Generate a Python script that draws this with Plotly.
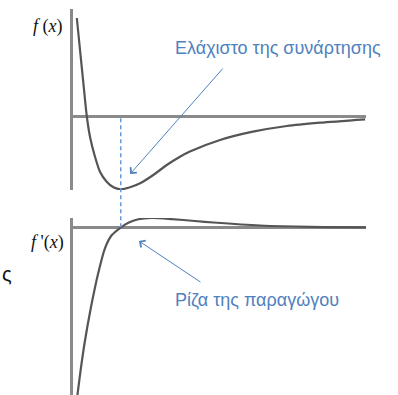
import plotly.graph_objects as go
from plotly.subplots import make_subplots

W, H = 398, 395

# f(x): sampled values of the function (arbitrary units)
f_x = [0.13, 0.24, 0.35, 0.47, 0.58, 0.75, 0.92, 1.15, 1.38, 1.63, 1.95, 2.29, 2.74, 3.20, 3.65, 3.99,
       5.02, 6.14, 7.30, 8.43, 9.97]
f_y = [9.8, 6.6, 3.4, 0.0, -2.07, -4.07, -5.57, -6.57, -7.13, -7.33, -7.13, -6.73, -5.9, -4.9, -4.07, -3.55,
       -2.4, -1.57, -1.0, -0.67, -0.33]

# f'(x): sampled values of the derivative
d_x = [0.15, 0.25, 0.40, 0.60, 0.86, 1.09, 1.32, 1.64, 1.89, 2.23, 2.69, 3.37, 4.16, 4.79, 6.38, 8.09, 10.0]
d_y = [-16.8, -14.5, -11.5, -8.2, -4.6, -2.1, -0.8, 0.0, 0.46, 0.8, 0.93, 0.82, 0.63, 0.48, 0.18, 0.04, 0.0]

x_min = 1.63  # position of the minimum / root of the derivative

label_f = "<i>f</i> (<i>x</i>)"
label_d = "<i>f</i> '(<i>x</i>)"
note_min = "Ελάχιστο της συνάρτησης"
note_root = "Ρίζα της παραγώγου"

# panel geometry (paper fractions)
x_dom = [73 / W, 366 / W]
top_dom = [1 - 190 / H, 1 - 9 / H]
bot_dom = [0.0, 1 - 218 / H]
x_rng = [0, 10]
top_rng = [-7.4, 10.7]
bot_rng = [-16.77, 0.93]

curve_col = "#555555"
axis_col = "#8a8a8a"
blue = "#4f81bd"

fig = make_subplots(rows=2, cols=1)
line_style = dict(color=curve_col, width=2.2, shape="spline", smoothing=0.7)
fig.add_trace(go.Scatter(x=f_x, y=f_y, mode="lines", line=line_style, hoverinfo="skip"), row=1, col=1)
fig.add_trace(go.Scatter(x=d_x, y=d_y, mode="lines", line=line_style, hoverinfo="skip"), row=2, col=1)

axis_style = dict(showgrid=False, showticklabels=False, ticks="")
fig.update_xaxes(domain=x_dom, range=x_rng, showline=False, zeroline=False, **axis_style)
fig.update_yaxes(showline=True, linecolor=axis_col, linewidth=2.5,
                 zeroline=True, zerolinecolor=axis_col, zerolinewidth=2.5, **axis_style)
fig.layout.yaxis.update(domain=top_dom, range=top_rng)
fig.layout.yaxis2.update(domain=bot_dom, range=bot_rng)
fig.layout.xaxis2.update(anchor="y2")


def to_paper(v, rng, dom):
    return dom[0] + (v - rng[0]) / (rng[1] - rng[0]) * (dom[1] - dom[0])


# dashed line joining the minimum of f and the root of f'
fig.add_shape(type="line", xref="x", yref="paper", x0=x_min, x1=x_min,
              y0=to_paper(0, bot_rng, bot_dom), y1=to_paper(0, top_rng, top_dom),
              line=dict(color="#6a9ad6", width=1.5, dash="4px,3px"))

note_font = dict(family="Liberation Sans, Arial", size=18, color=blue)
label_font = dict(family="Liberation Serif, Times New Roman", size=18, color="#111111")
txt = dict(xref="paper", yref="paper", showarrow=False, yanchor="middle")
annots = [
    dict(text=note_min, x=278 / W, y=1 - 48 / H, xanchor="center", font=note_font, **txt),
    dict(text="", xref="x", yref="y", x=1.95, y=-5.8, ax=94, ay=-107, showarrow=True,
         arrowhead=4, arrowsize=1.6, arrowwidth=1, arrowcolor=blue, standoff=0),
    dict(text=note_root, x=257 / W, y=1 - 300 / H, xanchor="center", font=note_font, **txt),
    dict(text="", xref="x2", yref="y2", x=2.25, y=-1.37, ax=63, ay=42, showarrow=True,
         arrowhead=4, arrowsize=1.6, arrowwidth=1, arrowcolor=blue, standoff=0),
    dict(text=label_f, x=65 / W, y=1 - 26 / H, xanchor="right", font=label_font, **txt),
    dict(text=label_d, x=66 / W, y=1 - 243 / H, xanchor="right", font=label_font, **txt),
    dict(text="ς", x=0, y=1 - 274 / H, xanchor="left",
         font=dict(family="Liberation Sans, Arial", size=20, color="#111111"), **txt),
]
fig.update_layout(annotations=annots, width=W, height=H, margin=dict(l=0, r=0, t=0, b=0),
                  paper_bgcolor="white", plot_bgcolor="white", showlegend=False)

fig.write_html("out.html")
